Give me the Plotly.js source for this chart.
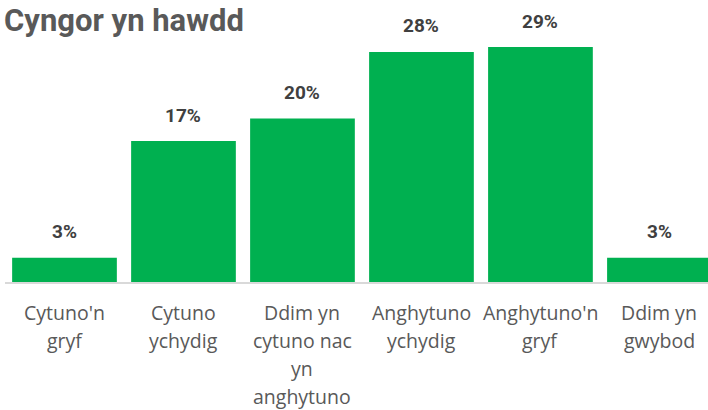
<!DOCTYPE html>
<html>
<head>
<meta charset="utf-8">
<script src="https://cdn.plot.ly/plotly-3.0.1.min.js"></script>
<style>html,body{margin:0;padding:0;background:#fff;}#chart{width:708px;height:410px;}</style>
</head>
<body>
<div id="chart"></div>
<script>
const categories = ["Cytuno'n gryf", "Cytuno ychydig", "Ddim yn cytuno nac yn anghytuno", "Anghytuno ychydig", "Anghytuno'n gryf", "Ddim yn gwybod"];
const categoryLines = [["Cytuno'n", "gryf"], ["Cytuno", "ychydig"], ["Ddim yn", "cytuno nac", "yn", "anghytuno"], ["Anghytuno", "ychydig"], ["Anghytuno'n", "gryf"], ["Ddim yn", "gwybod"]];
const values = [3.0, 17.4, 20.2, 28.4, 29.0, 3.0];
const valueLabels = ["3%", "17%", "20%", "28%", "29%", "3%"];
const chartTitle = "Cyngor yn hawdd";

const labelFont = {family: "'Open Sans', 'Noto Sans', sans-serif", size: 19.5, color: "#595959"};
const annotations = [];
categories.forEach((c, i) => {
  annotations.push({
    x: c, y: values[i], xref: "x", yref: "y", text: "<b>" + valueLabels[i] + "</b>",
    showarrow: false, yanchor: "middle", yshift: 26,
    font: {family: "Roboto, 'Liberation Sans', sans-serif", size: 19, color: "#404040"}
  });
  categoryLines[i].forEach((line, j) => {
    annotations.push({
      x: c, y: 0, xref: "x", yref: "paper", text: line, showarrow: false,
      yanchor: "middle", yshift: -(30.5 + 28 * j), borderpad: 0, font: labelFont
    });
  });
});

const trace = {
  type: "bar", x: categories, y: values,
  marker: {color: "#00B050"}, width: 0.88, hoverinfo: "none"
};

const layout = {
  width: 708, height: 410,
  margin: {l: 5, r: 0, t: 39, b: 128},
  paper_bgcolor: "#ffffff", plot_bgcolor: "#ffffff",
  showlegend: false,
  title: {
    text: "<b>" + chartTitle + "</b>", x: 4 / 708, xanchor: "left", xref: "container",
    y: 1 - 20 / 410, yref: "container", yanchor: "middle",
    font: {family: "Roboto, 'Liberation Sans', sans-serif", size: 31, color: "#595959"}
  },
  xaxis: {
    type: "category", range: [-0.5, 5.408], showticklabels: false, ticks: "",
    showline: true, linecolor: "#d9d9d9", linewidth: 1.5, showgrid: false, zeroline: false, fixedrange: true
  },
  yaxis: {
    range: [0, 30], visible: false, showgrid: false, zeroline: false, fixedrange: true
  },
  annotations: annotations
};

Plotly.newPlot("chart", [trace], layout, {staticPlot: true, displayModeBar: false});
</script>
</body>
</html>
